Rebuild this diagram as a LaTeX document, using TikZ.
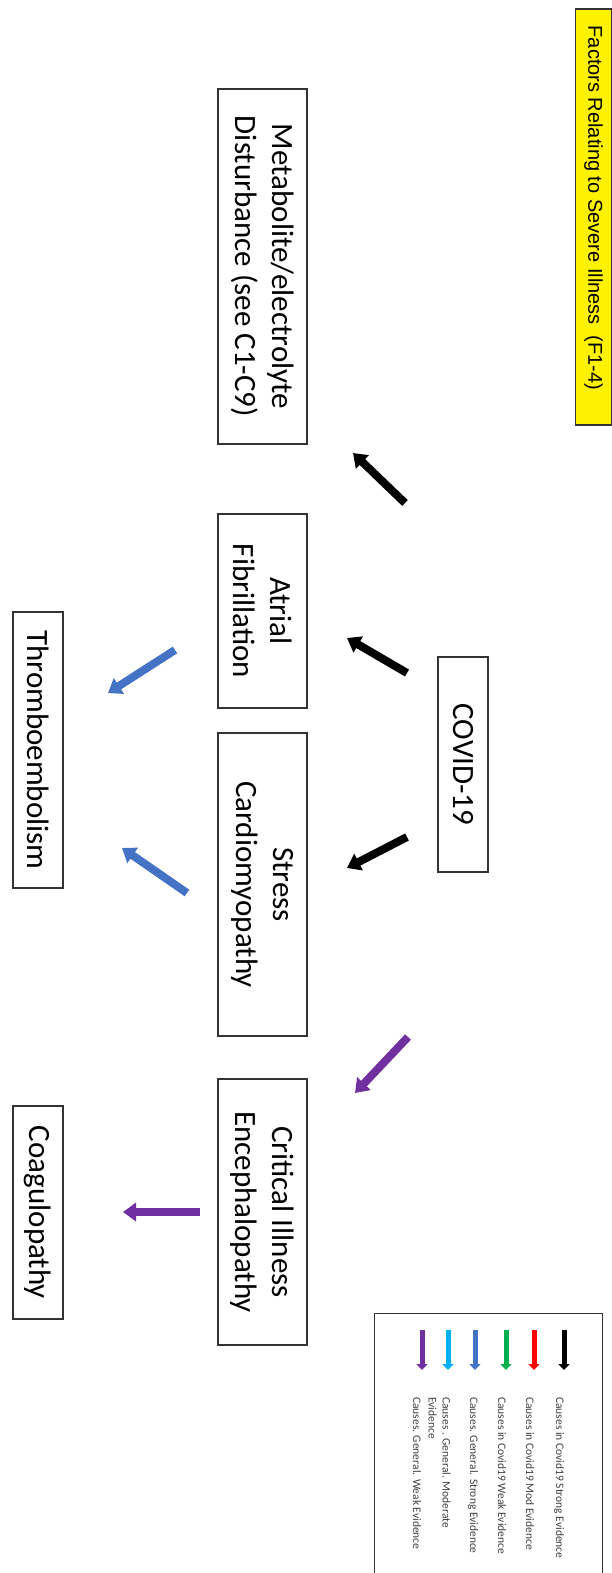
\documentclass[tikz,border=0pt]{standalone}
\usepackage{fontspec}
\setmainfont{Carlito}
\newfontfamily\titlefont{Liberation Sans}
\usetikzlibrary{arrows.meta}
\definecolor{strongblue}{HTML}{4472C4}
\definecolor{lightblue}{HTML}{00B0F0}
\definecolor{weakpurple}{HTML}{7030A0}
\definecolor{modred}{HTML}{FF0000}
\definecolor{weakgreen}{HTML}{00B050}
\begin{document}
\begin{tikzpicture}[x=1pt, y=-1pt,
  box/.style={draw=black!80, line width=1.2pt, rotate=-90, inner sep=0pt, align=center,
    font=\fontsize{31}{37}\selectfont},
  bigarrow/.style={line width=8pt, -{Triangle[width=18pt,length=13pt]}},
  keyarrow/.style={line width=5pt, -{Triangle[width=11pt,length=6pt]}},
  keytext/.style={rotate=-90, anchor=west, inner sep=0pt, align=left, text=black!75,
    font=\fontsize{11.5}{14}\selectfont}]
  \useasboundingbox (0,0) rectangle (612,1573);
  % title
  \node[box, fill=yellow, minimum width=416pt, minimum height=36pt,
    font=\titlefont\fontsize{20}{24}\selectfont] (title) at (593.5,217) {Factors Relating to Severe Illness\ \ (F1-4)\kern18pt};
  % boxes
  \node[box, minimum width=215pt, minimum height=50pt] (covid) at (463,764.5) {COVID-19};
  \node[box, minimum width=355pt, minimum height=89pt] (meta) at (262.5,266.5) {Metabolite/electrolyte\\Disturbance (see C1-C9)};
  \node[box, minimum width=194pt, minimum height=89pt] (atrial) at (262.5,611) {Atrial\\Fibrillation};
  \node[box, minimum width=303pt, minimum height=89pt] (stress) at (262.5,884.5) {Stress\\Cardiomyopathy};
  \node[box, minimum width=266pt, minimum height=89pt] (critical) at (262.5,1212) {Critical Illness\\Encephalopathy};
  \node[box, minimum width=276pt, minimum height=50pt] (thrombo) at (38,750) {Thromboembolism};
  \node[box, minimum width=213pt, minimum height=50pt] (coag) at (38,1212.5) {Coagulopathy};
  % arrow ends
  \coordinate (covMetaA) at (405,503);   \coordinate (covMetaB) at (353,453);
  \coordinate (covAtrA) at (407,673);    \coordinate (covAtrB) at (347,638);
  \coordinate (covStrA) at (407,837);    \coordinate (covStrB) at (347,868);
  \coordinate (covCritA) at (408,1037);  \coordinate (covCritB) at (355,1093);
  \coordinate (atrThrA) at (175,650);    \coordinate (atrThrB) at (108,693);
  \coordinate (strThrA) at (187,893);    \coordinate (strThrB) at (122,848);
  \coordinate (critCoagA) at (200,1212); \coordinate (critCoagB) at (123,1212);
  \draw[bigarrow, black] (covMetaA) -- (covMetaB);
  \draw[bigarrow, black] (covAtrA) -- (covAtrB);
  \draw[bigarrow, black] (covStrA) -- (covStrB);
  \draw[bigarrow, weakpurple] (covCritA) -- (covCritB);
  \draw[bigarrow, strongblue] (atrThrA) -- (atrThrB);
  \draw[bigarrow, strongblue] (strThrA) -- (strThrB);
  \draw[bigarrow, weakpurple] (critCoagA) -- (critCoagB);
  % legend
  \node[draw=black!80, line width=1.2pt, anchor=north west, minimum width=228pt, minimum height=280pt, inner sep=0pt] (legend) at (374,1313) {};
  \draw[keyarrow, black] (564,1330) -- (564,1370);
  \draw[keyarrow, modred] (534,1330) -- (534,1370);
  \draw[keyarrow, weakgreen] (506,1330) -- (506,1370);
  \draw[keyarrow, strongblue] (475,1330) -- (475,1370);
  \draw[keyarrow, lightblue] (448,1330) -- (448,1370);
  \draw[keyarrow, weakpurple] (422,1330) -- (422,1370);
  \node[keytext] (k1) at (559,1397) {Causes in Covid19 Strong Evidence};
  \node[keytext] (k2) at (530,1397) {Causes in Covid19 Mod Evidence};
  \node[keytext] (k3) at (502,1397) {Causes in Covid19 Weak Evidence};
  \node[keytext] (k4) at (473,1397) {Causes. General. Strong Evidence};
  \node[keytext] (k5) at (439.5,1397) {Causes . General. Moderate\\Evidence};
  \node[keytext] (k6) at (417,1397) {Causes. General. Weak Evidence};
\end{tikzpicture}
\end{document}
